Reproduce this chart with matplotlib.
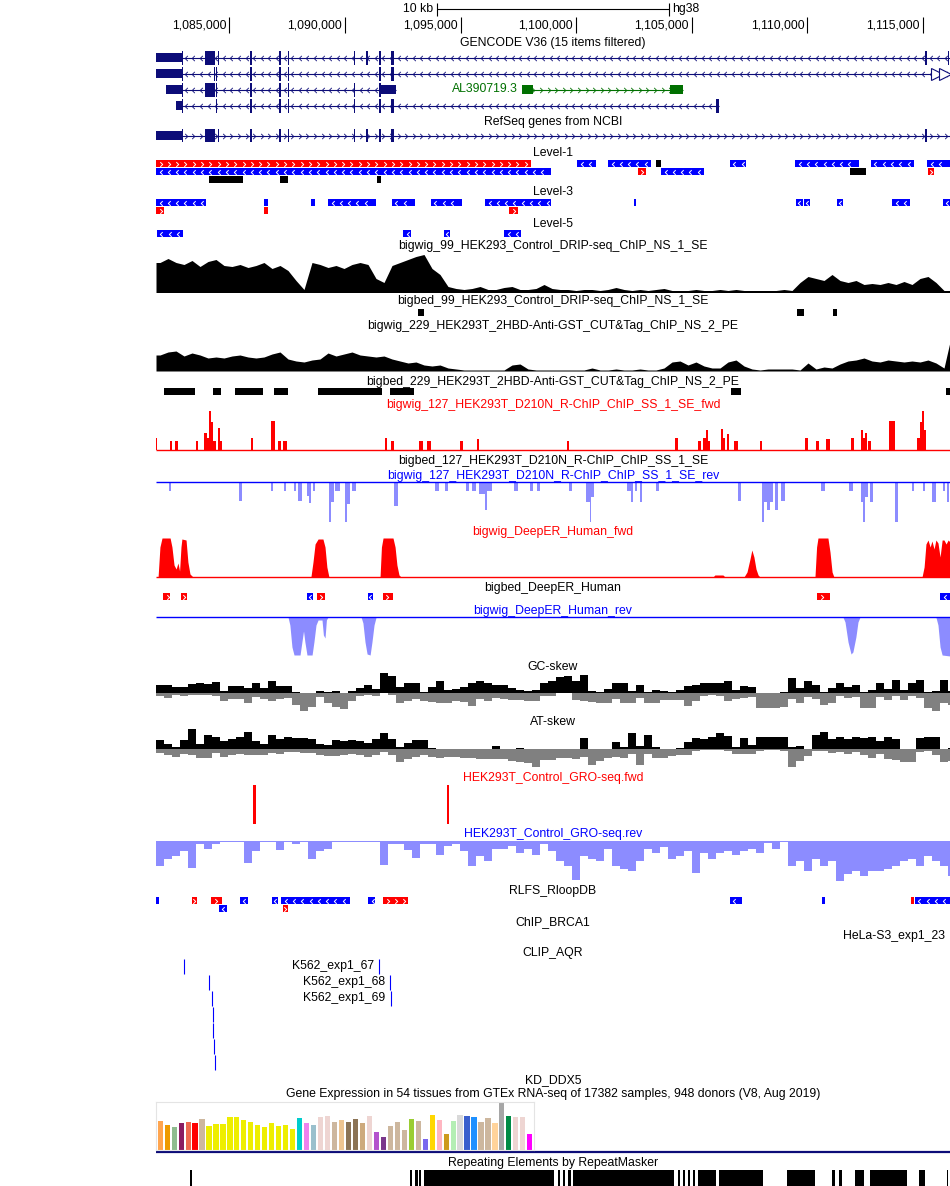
import numpy as np
import matplotlib
matplotlib.use("Agg")
import matplotlib.pyplot as plt
from matplotlib.path import Path

plt.rcParams['font.family'] = ['Liberation Sans', 'DejaVu Sans']

# ---------------- data (genomic positions in kb, chr1 / hg38) ----------------
VIEW = (1081.83, 1116.17)
TICKS_BP = [1085000, 1090000, 1095000, 1100000, 1105000, 1110000, 1115000]
SCALEBAR_KB = 10
BIN_KB = 0.346

# GENCODE V36 transcripts (line extent, thin UTR blocks, coding blocks)
GENCODE_LINES = [(1082.94, 1116.17), (1082.94, 1116.17), (1082.94, 1092.21), (1082.94, 1106.16)]
GENCODE_UTR = [
    [(1081.83, 1082.94)],
    [(1081.83, 1082.94)],
    [(1082.26, 1082.94), (1091.57, 1092.21)],
    [(1082.70, 1082.94)],
]
GENCODE_CDS = [
    [(1082.94, 1082.98), (1083.95, 1084.38), (1084.50, 1084.54), (1085.90, 1085.98), (1087.17, 1087.25),
     (1087.53, 1087.60), (1090.39, 1090.44), (1090.91, 1090.98), (1091.49, 1091.57), (1091.98, 1092.11),
     (1115.09, 1115.18), (1116.08, 1116.12)],
    [(1082.94, 1082.98), (1084.34, 1084.37), (1084.44, 1084.47), (1085.90, 1085.98), (1087.17, 1087.25),
     (1087.53, 1087.60), (1091.49, 1091.57), (1091.98, 1092.11)],
    [(1082.94, 1082.98), (1083.95, 1084.38), (1084.44, 1084.47), (1085.90, 1085.98), (1087.17, 1087.25),
     (1087.53, 1087.58), (1090.39, 1090.42), (1091.49, 1091.57)],
    [(1082.94, 1082.98), (1084.44, 1084.47), (1085.90, 1085.98), (1087.17, 1087.25), (1087.53, 1087.60),
     (1090.39, 1090.42), (1091.49, 1091.57), (1091.98, 1092.11), (1106.04, 1106.16)],
]
LNC_NAME = "AL390719.3"
LNC_LINE = (1097.64, 1104.61)
LNC_EXONS = [(1097.64, 1098.12), (1104.06, 1104.61)]

REFSEQ_LINE = (1082.94, 1116.17)
REFSEQ_UTR = [(1081.83, 1082.94)]
REFSEQ_CDS = [(1082.94, 1082.98), (1083.95, 1084.38), (1084.50, 1084.54), (1085.90, 1085.98), (1087.17, 1087.25),
              (1087.53, 1087.60), (1090.39, 1090.44), (1090.91, 1090.98), (1091.49, 1091.57), (1091.98, 1092.11),
              (1115.09, 1115.18)]

# Level tracks: (start, end, strand)
LEVEL1 = [
    [(1081.83, 1098.05, '+'), (1100.04, 1100.85, '-'), (1101.38, 1103.23, '-'), (1103.45, 1103.67, '.'),
     (1106.65, 1107.33, '-'), (1109.47, 1112.23, '-'), (1112.75, 1114.61, '-'), (1115.18, 1116.17, '-')],
    [(1081.83, 1098.91, '-'), (1102.67, 1103.02, '+'), (1103.67, 1105.53, '-'), (1111.84, 1112.52, '.'),
     (1115.20, 1115.48, '+')],
    [(1084.12, 1085.58, '.'), (1087.19, 1087.53, '.'), (1091.39, 1091.56, '.')],
]
LEVEL3 = [
    [(1081.83, 1083.98, '-'), (1086.50, 1086.67, '-'), (1088.53, 1088.69, '-'), (1089.27, 1091.33, '-'),
     (1092.03, 1093.03, '-'), (1093.72, 1095.06, '-'), (1096.06, 1098.91, '-'), (1102.50, 1102.59, '-'),
     (1109.51, 1109.80, '-'), (1109.85, 1110.11, '-'), (1111.28, 1111.54, '-'), (1113.66, 1114.44, '-'),
     (1115.87, 1116.17, '-')],
    [(1081.83, 1082.18, '+'), (1086.50, 1086.67, '+'), (1097.10, 1097.48, '+')],
]
LEVEL5 = [[(1081.87, 1083.00, '-'), (1092.51, 1092.86, '-'), (1094.28, 1094.54, '-'), (1096.88, 1097.61, '-')]]

# DRIP-seq / CUT&Tag coverage, 100 bins of BIN_KB
DRIP_SIGNAL = [30, 34, 30, 28, 32, 26, 31, 33, 27, 26, 28, 25, 27, 30, 24, 27, 22, 12, 3, 30,
               28, 25, 27, 24, 28, 30, 28, 14, 10, 27, 30, 33, 36, 38, 24, 18, 6, 4, 3, 4,
               6, 3, 3, 5, 6, 3, 3, 4, 8, 4, 3, 3, 2, 3, 3, 2, 3, 5, 3, 2,
               3, 2, 3, 4, 2, 2, 2, 3, 2, 2, 3, 2, 3, 2, 2, 2, 2, 2, 3, 2,
               10, 16, 14, 12, 18, 12, 10, 12, 8, 9, 8, 10, 8, 11, 8, 14, 16, 10, 2, 2]
DRIP_PEAKS = [(1093.16, 1093.42), (1109.55, 1109.85), (1111.11, 1111.28)]

CUTTAG_SIGNAL = [16, 19, 20, 15, 18, 16, 13, 14, 13, 15, 16, 14, 13, 14, 17, 19, 12, 10, 9, 11,
                 12, 18, 15, 17, 19, 16, 15, 14, 15, 12, 10, 8, 9, 6, 5, 6, 3, 2, 1, 1,
                 1, 1, 1, 1, 6, 7, 2, 1, 1, 1, 1, 1, 1, 1, 3, 1, 1, 2, 1, 1,
                 2, 1, 1, 3, 9, 10, 6, 9, 5, 3, 3, 9, 11, 5, 2, 1, 2, 2, 2, 2,
                 1, 8, 2, 4, 3, 7, 10, 11, 13, 10, 9, 11, 10, 9, 10, 9, 11, 8, 3, 38]
CUTTAG_PEAKS = [(1082.17, 1083.53), (1084.30, 1084.64), (1085.25, 1086.46), (1086.93, 1087.53),
                (1088.83, 1091.60), (1091.94, 1092.98), (1106.72, 1107.12), (1116.00, 1116.17)]

# R-ChIP forward / reverse peaks: (start, end, signal)
RCHIP_FWD = [(1081.83, 1081.88, 12), (1082.44, 1082.52, 9), (1082.65, 1082.78, 9), (1083.56, 1083.65, 9),
             (1083.91, 1084.04, 17), (1084.04, 1084.12, 12), (1084.12, 1084.21, 39), (1084.21, 1084.30, 28),
             (1084.30, 1084.43, 9), (1084.51, 1084.60, 22), (1084.60, 1084.68, 9), (1085.94, 1086.03, 12),
             (1086.80, 1086.98, 29), (1087.10, 1087.24, 9), (1087.32, 1087.49, 9), (1091.73, 1091.82, 12),
             (1091.99, 1092.12, 9), (1093.20, 1093.38, 9), (1093.55, 1093.72, 9), (1094.98, 1095.11, 9),
             (1095.71, 1095.80, 11), (1099.60, 1099.69, 9), (1104.27, 1104.40, 12), (1105.27, 1105.40, 9),
             (1105.49, 1105.62, 12), (1105.62, 1105.70, 20), (1105.70, 1105.79, 9), (1106.26, 1106.35, 21),
             (1106.35, 1106.44, 12), (1106.52, 1106.61, 16), (1106.83, 1107.00, 9), (1107.95, 1108.04, 9),
             (1109.90, 1110.03, 12), (1110.37, 1110.50, 9), (1110.81, 1110.98, 11), (1111.89, 1112.02, 12),
             (1112.32, 1112.41, 20), (1112.41, 1112.49, 12), (1112.49, 1112.58, 17), (1112.62, 1112.75, 9),
             (1113.53, 1113.79, 29), (1114.74, 1114.87, 12), (1114.87, 1114.96, 28), (1114.96, 1115.05, 39),
             (1115.05, 1115.13, 20)]
RCHIP_REV = [(1082.39, 1082.48, 9), (1085.42, 1085.55, 19), (1086.80, 1086.89, 9), (1087.36, 1087.45, 9),
             (1087.80, 1087.88, 9), (1087.97, 1088.14, 19), (1088.36, 1088.45, 14), (1088.45, 1088.53, 21),
             (1088.62, 1088.71, 9), (1089.31, 1089.40, 40), (1089.40, 1089.53, 20), (1089.57, 1089.79, 9),
             (1090.00, 1090.09, 40), (1090.09, 1090.22, 22), (1090.31, 1090.48, 9), (1092.12, 1092.30, 24),
             (1093.90, 1094.07, 9), (1094.33, 1094.46, 9), (1095.24, 1095.36, 9), (1095.50, 1095.67, 9),
             (1095.80, 1096.06, 12), (1096.06, 1096.14, 28), (1096.14, 1096.36, 9), (1097.31, 1097.48, 9),
             (1098.00, 1098.13, 9), (1098.31, 1098.44, 9), (1099.69, 1099.82, 9), (1100.43, 1100.60, 20),
             (1100.60, 1100.64, 40), (1100.64, 1100.77, 15), (1102.20, 1102.37, 9), (1102.37, 1102.46, 20),
             (1102.54, 1102.63, 9), (1102.76, 1102.85, 20), (1103.45, 1103.58, 9), (1107.00, 1107.13, 19),
             (1108.04, 1108.12, 40), (1108.12, 1108.25, 20), (1108.25, 1108.38, 28), (1108.38, 1108.51, 20),
             (1108.60, 1108.73, 28), (1108.86, 1109.03, 19), (1110.59, 1110.76, 9), (1111.80, 1111.97, 9),
             (1112.32, 1112.41, 20), (1112.41, 1112.49, 40), (1112.49, 1112.62, 15), (1112.71, 1112.84, 20),
             (1113.79, 1113.92, 40), (1114.52, 1114.61, 9), (1115.00, 1115.09, 9), (1115.39, 1115.56, 20),
             (1115.87, 1115.95, 9), (1116.04, 1116.13, 20)]

# DeepER predictions: profile points (position, signal)
DEEPER_FWD_POS = [1081.92, 1082.00, 1082.09, 1082.44, 1082.52, 1082.61, 1082.70, 1082.78, 1082.85, 1082.91,
                  1082.95, 1083.13, 1083.21, 1083.30, 1083.43,
                  1088.53, 1088.62, 1088.71, 1088.84, 1089.05, 1089.14, 1089.22, 1089.31,
                  1091.52, 1091.58, 1091.65, 1092.08, 1092.17, 1092.25, 1092.34, 1092.43,
                  1105.92, 1106.00, 1106.35, 1106.44,
                  1107.26, 1107.39, 1107.52, 1107.60, 1107.69, 1107.78, 1107.87, 1107.95,
                  1110.33, 1110.40, 1110.46, 1110.89, 1110.98, 1111.07, 1111.15,
                  1114.96, 1115.05, 1115.13, 1115.22, 1115.31, 1115.39, 1115.48, 1115.56, 1115.65, 1115.74,
                  1115.83, 1115.91, 1116.00, 1116.09, 1116.17]
DEEPER_FWD_VAL = [0, 30, 39, 39, 30, 12, 8, 14, 6, 30,
                  38, 37, 15, 3, 0,
                  0, 15, 33, 38, 38, 30, 10, 0,
                  0, 30, 39, 39, 30, 12, 2, 0,
                  0, 2, 2, 0,
                  0, 5, 18, 27, 20, 8, 2, 0,
                  0, 30, 39, 39, 25, 5, 0,
                  0, 10, 33, 37, 30, 36, 28, 37, 34, 20,
                  37, 37, 33, 37, 35]
DEEPER_REV_POS = [1087.54, 1087.62, 1087.71, 1087.80, 1088.06, 1088.14, 1088.21, 1088.27, 1088.36, 1088.58,
                  1088.66, 1088.75, 1088.84, 1089.01, 1089.07, 1089.14, 1089.20, 1089.27,
                  1090.70, 1090.78, 1090.87, 1090.96, 1091.09, 1091.17, 1091.26, 1091.35,
                  1111.54, 1111.63, 1111.76, 1111.89, 1111.97, 1112.10, 1112.19, 1112.28,
                  1115.56, 1115.65, 1115.74, 1115.83, 1116.17]
DEEPER_REV_VAL = [0, 8, 30, 38, 38, 25, 14, 25, 38, 38,
                  25, 8, 3, 3, 18, 21, 3, 0,
                  0, 6, 25, 37, 38, 25, 8, 0,
                  0, 5, 25, 37, 35, 20, 5, 0,
                  0, 8, 30, 38, 39]
DEEPER_BED = [(1082.13, 1082.44, '+'), (1082.93, 1083.16, '+'), (1088.36, 1088.62, '-'), (1088.79, 1089.14, '+'),
              (1091.00, 1091.21, '-'), (1091.63, 1092.08, '+'), (1110.42, 1110.98, '+'), (1115.74, 1116.17, '-')]

# GC / AT skew: per-bin positive and negative extremes
GC_POS = [8, 8, 6, 6, 9, 10, 9, 11, 2, 7, 7, 5, 10, 5, 12, 7, 7, 1, 0, 0,
          2, 1, 2, 0, 2, 5, 8, 4, 20, 17, 6, 10, 10, 1, 6, 12, 3, 4, 6, 10,
          12, 10, 8, 8, 5, 3, 2, 3, 10, 12, 16, 17, 12, 18, 2, 1, 4, 10, 10, 2,
          8, 1, 3, 2, 1, 3, 7, 8, 10, 10, 10, 12, 3, 7, 6, 0, 0, 0, 1, 15,
          5, 12, 8, 1, 5, 10, 6, 8, 1, 3, 10, 4, 13, 3, 10, 13, 1, 2, 13, 2]
GC_NEG = [3, 5, 2, 3, 2, 2, 2, 3, 8, 6, 6, 10, 4, 6, 8, 6, 5, 12, 18, 14,
          4, 10, 14, 16, 8, 3, 2, 3, 0, 2, 10, 8, 6, 8, 9, 10, 10, 8, 9, 13,
          6, 8, 5, 6, 7, 7, 8, 8, 3, 3, 0, 0, 7, 8, 9, 10, 10, 6, 10, 10,
          5, 10, 10, 7, 7, 7, 13, 8, 3, 2, 3, 8, 6, 5, 4, 15, 15, 15, 14, 6,
          10, 4, 6, 12, 10, 3, 5, 4, 15, 15, 4, 7, 3, 7, 3, 5, 15, 18, 10, 12]
AT_POS = [9, 5, 2, 9, 20, 5, 14, 12, 8, 10, 12, 17, 8, 5, 14, 10, 12, 11, 11, 10,
          5, 4, 9, 8, 9, 8, 6, 10, 16, 10, 2, 6, 9, 9, 1, 0, 0, 0, 0, 0,
          0, 0, 3, 0, 0, 1, 0, 0, 0, 0, 0, 0, 0, 11, 0, 0, 0, 7, 2, 16,
          3, 14, 2, 0, 0, 1, 7, 11, 10, 12, 16, 13, 2, 11, 4, 12, 12, 12, 12, 2,
          3, 0, 14, 17, 10, 12, 10, 12, 11, 12, 8, 12, 10, 0, 0, 11, 12, 12, 0, 1]
AT_NEG = [4, 6, 8, 5, 6, 9, 9, 4, 8, 6, 5, 6, 6, 6, 4, 5, 3, 3, 4, 4,
          6, 7, 7, 6, 5, 6, 8, 6, 3, 6, 13, 10, 8, 6, 8, 9, 8, 8, 9, 9,
          10, 10, 10, 10, 12, 13, 14, 18, 11, 11, 9, 9, 10, 8, 16, 12, 9, 8, 9, 5,
          16, 5, 9, 9, 7, 6, 6, 2, 1, 1, 1, 2, 5, 5, 5, 2, 1, 1, 2, 18,
          12, 7, 2, 2, 4, 3, 5, 3, 6, 9, 5, 10, 11, 13, 13, 3, 2, 6, 13, 12]

# GRO-seq
GRO_FWD = [(1086.03, 1086.16, 39), (1094.43, 1094.52, 39)]
GRO_REV = [25, 18, 15, 10, 27, 3, 8, 3, 1, 1, 1, 22, 10, 1, 1, 9, 1, 3, 1, 18,
           10, 8, 1, 1, 1, 1, 1, 1, 24, 3, 3, 9, 17, 3, 3, 14, 5, 3, 10, 25,
           15, 20, 8, 8, 5, 12, 8, 14, 3, 10, 20, 25, 39, 15, 18, 20, 8, 25, 28, 30,
           20, 8, 12, 6, 18, 15, 10, 32, 12, 18, 12, 10, 14, 10, 8, 12, 2, 8, 1, 25,
           20, 30, 18, 25, 20, 40, 33, 30, 35, 30, 30, 28, 25, 20, 18, 25, 15, 20, 25, 35]

# RLFS (R-loop forming sequences)
RLFS = [
    [(1081.83, 1081.96, '-'), (1083.38, 1083.60, '+'), (1084.23, 1084.68, '+'), (1085.46, 1085.81, '-'),
     (1086.86, 1087.09, '-'), (1087.24, 1090.24, '-'), (1091.00, 1091.32, '-'), (1091.65, 1092.71, '+'),
     (1106.65, 1107.17, '-'), (1110.63, 1110.76, '-'), (1114.48, 1114.61, '+'), (1114.65, 1116.17, '-')],
    [(1084.55, 1084.88, '-'), (1087.31, 1087.54, '+')],
]

BRCA1_LABEL = "HeLa-S3_exp1_23"
# CLIP_AQR items: (position, row, label)
CLIP_ITEMS = [(1083.03, 0, ''), (1091.46, 0, 'K562_exp1_67'), (1084.11, 1, ''), (1091.94, 1, 'K562_exp1_68'),
              (1084.24, 2, ''), (1091.98, 2, 'K562_exp1_69'), (1084.28, 3, ''), (1084.31, 4, ''),
              (1084.33, 5, ''), (1084.37, 6, '')]

# GTEx expression (54 tissues)
GTEX_VALUES = [29, 25, 23, 27, 28, 27, 31, 24, 26, 26, 33, 33, 30, 28, 25, 23, 27, 24, 25, 21,
               32, 27, 25, 33, 34, 28, 30, 28, 31, 27, 34, 18, 13, 24, 28, 20, 31, 29, 11, 35,
               30, 16, 29, 35, 34, 33, 28, 32, 27, 48, 34, 33, 33, 16]
GTEX_COLORS = ['#FFA54F', '#EE9A00', '#8FBC8F', '#8B1C62', '#EE6A50', '#FF0000', '#CDB79E', '#EEEE00',
               '#EEEE00', '#EEEE00', '#EEEE00', '#EEEE00', '#EEEE00', '#EEEE00', '#EEEE00', '#EEEE00',
               '#EEEE00', '#EEEE00', '#EEEE00', '#EEEE00', '#00CDCD', '#EE82EE', '#9AC0CD', '#EED5D2',
               '#EED5D2', '#CDB79E', '#EEC591', '#8B7355', '#8B7355', '#CDAA7D', '#EED5D2', '#B452CD',
               '#7A378B', '#CDB79E', '#CDB79E', '#CDB79E', '#9ACD32', '#CDB79E', '#7A67EE', '#FFD700',
               '#FFB6C1', '#CD9B1D', '#B4EEB4', '#D9D9D9', '#3A5FCD', '#1E90FF', '#CDB79E', '#CDB79E',
               '#FFD39B', '#A6A6A6', '#008B45', '#EED5D2', '#EED5D2', '#FF00FF']

REPEATS = [(1083.32, 1083.37), (1092.81, 1092.92), (1093.02, 1093.14), (1093.20, 1093.29), (1093.42, 1099.04),
           (1099.22, 1099.30), (1099.42, 1099.52), (1099.63, 1099.76), (1099.85, 1104.22), (1104.41, 1104.49),
           (1104.61, 1104.71), (1104.82, 1104.92), (1105.04, 1105.13), (1105.25, 1106.04), (1106.16, 1108.08),
           (1109.12, 1110.33), (1111.07, 1111.20), (1111.37, 1111.50), (1112.06, 1112.45), (1112.71, 1114.31),
           (1114.83, 1115.09), (1116.02, 1116.06)]

# ---------------- drawing ----------------
W, H = 950, 1186
LEFT = 156
FS = 8.8
NAVY = '#0c0c78'
BLUE = '#0000ff'
RED = '#ff0000'
LBLUE = '#8c8cff'
GREEN = '#007000'

fig = plt.figure(figsize=(W / 100, H / 100), dpi=100)
ax = fig.add_axes([LEFT / W, 0, (W - LEFT) / W, 1])
ax.set_xlim(*VIEW)
ax.set_ylim(H, 0)
ax.axis('off')
KPP = (VIEW[1] - VIEW[0]) / (W - LEFT)   # kb per pixel
MID = (VIEW[0] + VIEW[1]) / 2

CHEV_L = Path([(0.5, 1), (-0.5, 0), (0.5, -1)], [Path.MOVETO, Path.LINETO, Path.LINETO])
CHEV_R = Path([(-0.5, 1), (0.5, 0), (-0.5, -1)], [Path.MOVETO, Path.LINETO, Path.LINETO])


def label(y, s, color='black', x=None, ha='center'):
    ax.text(MID if x is None else x, y, s, ha=ha, va='center', fontsize=FS, color=color, clip_on=False)


def chevrons(s, e, yc, strand, color, spacing_px=8.3, size=3.6, lw=0.8):
    step = spacing_px * KPP
    if e - s < 4.5 * KPP or strand not in '+-':
        return
    xs = np.arange(s + step * 0.55, e - step * 0.3, step)
    if len(xs) == 0:
        xs = np.array([(s + e) / 2])
    ax.plot(xs, np.full(len(xs), yc), ls='none', marker=CHEV_L if strand == '-' else CHEV_R,
            ms=size, mfc='none', mec=color, mew=lw)


def bed_rows(rows, y0, h, gap):
    for r, items in enumerate(rows):
        top = y0 + r * (h + gap)
        for s, e, strand in items:
            col = {'+': RED, '-': BLUE, '.': 'black'}[strand]
            ax.broken_barh([(s, e - s)], (top, h), facecolors=col, lw=0)
            chevrons(s, e, top + h / 2, strand, 'white', size=3.4, lw=0.7)


def transcript(yc, line, utr, cds, color, strand='-', utr_h=9, cds_h=14):
    ax.hlines(yc, line[0], line[1], color=color, lw=0.8)
    chevrons(line[0], line[1], yc, strand, color, spacing_px=7.6, size=3.8, lw=0.6)
    for s, e in utr:
        ax.broken_barh([(s, e - s)], (yc - utr_h / 2, utr_h), facecolors=color, lw=0)
    for s, e in cds:
        ax.broken_barh([(s, max(e - s, KPP))], (yc - cds_h / 2, cds_h), facecolors=color, lw=0)


def bin_centers(n):
    return VIEW[0] + (np.arange(n) + 0.5) * BIN_KB


def profile(vals, base, direction, color):
    """coverage drawn as a filled outline through the bin values"""
    v = np.asarray(vals, float)
    x = np.concatenate([[VIEW[0]], bin_centers(len(v)), [VIEW[1] + BIN_KB]])
    y = np.concatenate([[v[0]], v, [v[-1]]])
    ax.fill_between(x, base, base + direction * y, color=color, lw=0)


def binned(vals, base, direction, color):
    v = np.asarray(vals, float)
    x = VIEW[0] + np.arange(len(v) + 1) * BIN_KB
    y = base + direction * np.append(v, v[-1])
    ax.fill_between(x, base, y, step='post', color=color, lw=0)


# scale bar + ruler
sb0, sb1 = MID - SCALEBAR_KB / 2, MID + SCALEBAR_KB / 2
ax.hlines(9, sb0, sb1, color='black', lw=0.8)
ax.vlines([sb0, sb1], 3, 16, color='black', lw=0.8)
label(9, f"{SCALEBAR_KB} kb", x=sb0 - 4 * KPP, ha='right')
label(9, "hg38", x=sb1 + 4 * KPP, ha='left')
for p in TICKS_BP:
    ax.vlines(p / 1000, 17, 33, color='black', lw=0.8)
    label(26, f"{p:,}", x=p / 1000 - 3 * KPP, ha='right')

# GENCODE
label(43, "GENCODE V36 (15 items filtered)")
rows_y = [57.5, 73.5, 89.5, 105.5]
for i, yc in enumerate(rows_y):
    transcript(yc, GENCODE_LINES[i], GENCODE_UTR[i], GENCODE_CDS[i], NAVY)
ax.plot([VIEW[1] - 13.5 * KPP, VIEW[1] - 5.5 * KPP], [73.5, 73.5], ls='none', marker='>', ms=8,
        mfc='white', mec=NAVY, mew=0.8)
transcript(89.5, LNC_LINE, LNC_EXONS, [], GREEN, strand='+', utr_h=9)
label(89.5, LNC_NAME, color=GREEN, x=LNC_LINE[0] - 4 * KPP, ha='right')

# RefSeq
label(122, "RefSeq genes from NCBI")
transcript(135.5, REFSEQ_LINE, REFSEQ_UTR, REFSEQ_CDS, NAVY, strand='', cds_h=13)

# Level tracks
label(153, "Level-1")
bed_rows(LEVEL1, 160, 7, 1)
label(192, "Level-3")
bed_rows(LEVEL3, 199, 7, 1)
label(224, "Level-5")
bed_rows(LEVEL5, 230, 7, 1)

# DRIP-seq
label(246, "bigwig_99_HEK293_Control_DRIP-seq_ChIP_NS_1_SE")
profile(DRIP_SIGNAL, 292.5, -1, 'black')
label(301, "bigbed_99_HEK293_Control_DRIP-seq_ChIP_NS_1_SE")
ax.broken_barh([(s, e - s) for s, e in DRIP_PEAKS], (309, 7), facecolors='black')

# CUT&Tag
label(326, "bigwig_229_HEK293T_2HBD-Anti-GST_CUT&Tag_ChIP_NS_2_PE")
profile(CUTTAG_SIGNAL, 371, -1, 'black')
label(382, "bigbed_229_HEK293T_2HBD-Anti-GST_CUT&Tag_ChIP_NS_2_PE")
ax.broken_barh([(s, e - s) for s, e in CUTTAG_PEAKS], (388, 7), facecolors='black')

# R-ChIP
label(405, "bigwig_127_HEK293T_D210N_R-ChIP_ChIP_SS_1_SE_fwd", color=RED)
ax.hlines(450, *VIEW, color=RED, lw=1)
for s, e, v in RCHIP_FWD:
    ax.bar(s, -v, width=max(e - s, KPP), bottom=450, align='edge', color=RED, lw=0)
label(461, "bigbed_127_HEK293T_D210N_R-ChIP_ChIP_SS_1_SE")
label(476, "bigwig_127_HEK293T_D210N_R-ChIP_ChIP_SS_1_SE_rev", color=BLUE)
for s, e, v in RCHIP_REV:
    ax.bar(s, v, width=max(e - s, KPP), bottom=482, align='edge', color=LBLUE, lw=0)
ax.hlines(482, *VIEW, color=BLUE, lw=1)

# DeepER
label(532, "bigwig_DeepER_Human_fwd", color=RED)
ax.fill_between(DEEPER_FWD_POS, 577, 577 - np.asarray(DEEPER_FWD_VAL), color=RED, lw=0)
ax.hlines(577, *VIEW, color=RED, lw=1)
label(588, "bigbed_DeepER_Human")
bed_rows([DEEPER_BED], 593, 7, 1)
label(611, "bigwig_DeepER_Human_rev", color=BLUE)
ax.fill_between(DEEPER_REV_POS, 617, 617 + np.asarray(DEEPER_REV_VAL), color=LBLUE, lw=0)
ax.hlines(617, *VIEW, color=BLUE, lw=1)

# skews
label(667, "GC-skew")
binned(GC_NEG, 693, 1, '#808080')
binned(GC_POS, 693, -1, 'black')
label(722, "AT-skew")
binned(AT_NEG, 749, 1, '#808080')
binned(AT_POS, 749, -1, 'black')

# GRO-seq
label(778, "HEK293T_Control_GRO-seq.fwd", color=RED)
for s, e, v in GRO_FWD:
    ax.bar(s, -v, width=e - s, bottom=824, align='edge', color=RED, lw=0)
label(834, "HEK293T_Control_GRO-seq.rev", color=BLUE)
binned(GRO_REV, 841, 1, LBLUE)

# RLFS
label(891, "RLFS_RloopDB")
bed_rows(RLFS, 897, 7, 1)

# ChIP / CLIP
label(922, "ChIP_BRCA1")
label(936, BRCA1_LABEL, x=VIEW[1] - 5 * KPP, ha='right')
label(953, "CLIP_AQR")
for pos, row, name in CLIP_ITEMS:
    top = 959 + row * 16
    ax.vlines(pos, top, top + 14.5, color=BLUE, lw=0.8)
    if name:
        label(top + 7.5, name, x=pos - 5 * KPP, ha='right')
label(1080, "KD_DDX5")

# GTEx
label(1094, "Gene Expression in 54 tissues from GTEx RNA-seq of 17382 samples, 948 donors (V8, Aug 2019)")
gax = fig.add_axes([LEFT / W, 1 - 1150 / H, 378 / W, 48 / H])
gax.bar(np.arange(len(GTEX_VALUES)), GTEX_VALUES, width=0.74, color=GTEX_COLORS, lw=0)
gax.set_xlim(-0.6, len(GTEX_VALUES) - 0.4)
gax.set_ylim(0, 48)
gax.set_xticks([])
gax.set_yticks([])
for sp in gax.spines.values():
    sp.set_color('#e4e4e4')
    sp.set_linewidth(0.8)
ax.hlines(1151.5, *VIEW, color=NAVY, lw=1.6)

# RepeatMasker
label(1163, "Repeating Elements by RepeatMasker")
ax.broken_barh([(s, max(e - s, KPP)) for s, e in REPEATS], (1170, 16), facecolors='black', lw=0)

fig.savefig("out.png", dpi=100)
